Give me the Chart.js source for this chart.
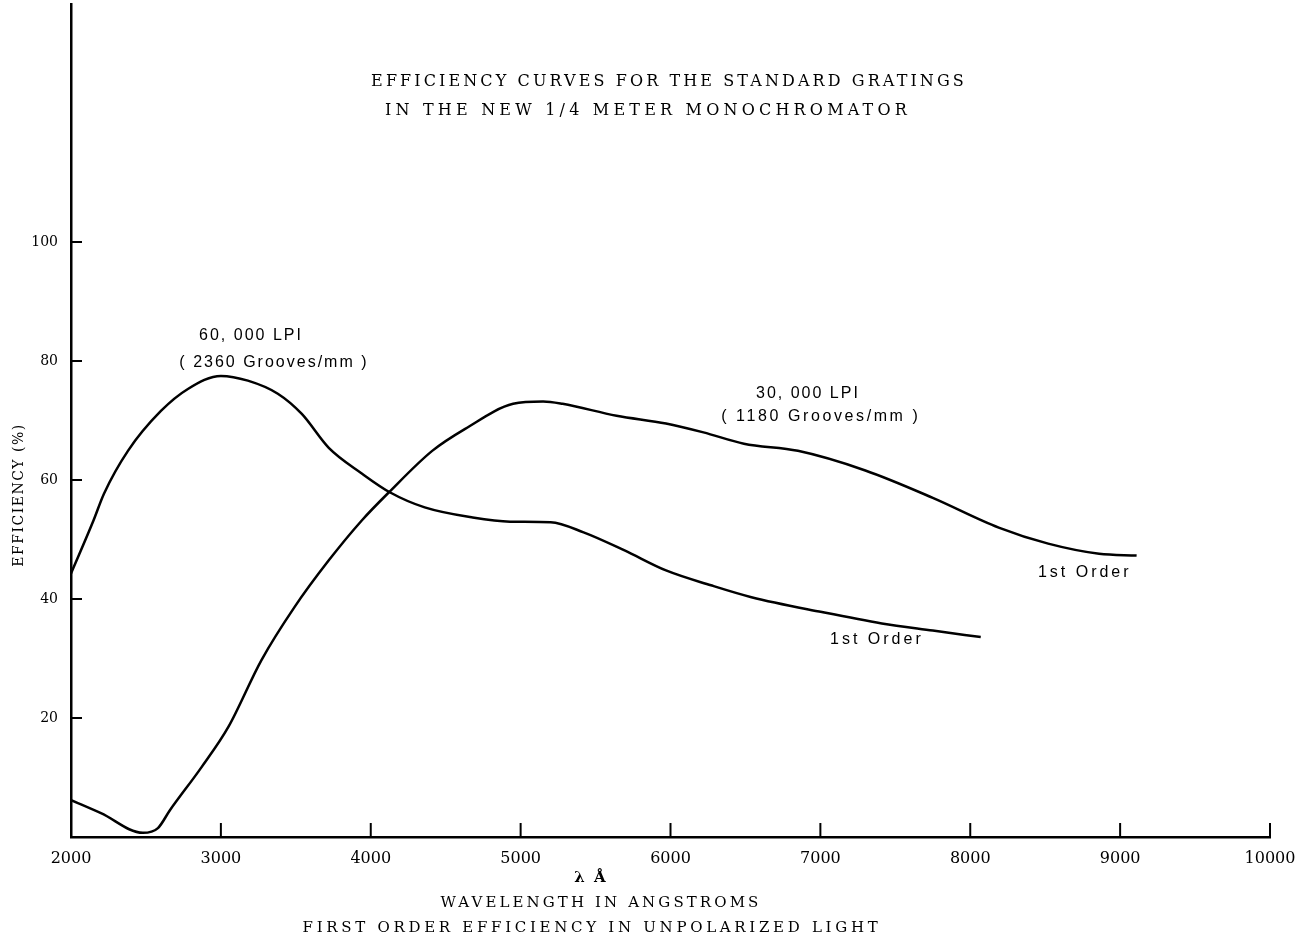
<!DOCTYPE html>
<html>
<head>
<meta charset="utf-8">
<script src="https://cdn.jsdelivr.net/npm/chart.js@4/dist/chart.umd.min.js"></script>
<style>
  html, body { margin: 0; padding: 0; background: #fff; }
  #wrap { width: 1313px; height: 944px; position: relative; }
  canvas { display: block; }
</style>
</head>
<body>
<div id="wrap"><canvas id="c" width="1313" height="944" style="width:1313px;height:944px"></canvas></div>
<script>
// ---- data ----
const wavelength60k = [2000, 2150, 2220, 2380, 2600, 2780, 3000, 3180, 3380, 3540, 3720, 3940, 4130, 4360, 4680, 4930, 5200, 5420, 5690, 5970, 6270, 6540, 7010, 7410, 7750, 8070];
const efficiency60k = [44.3, 53.2, 57.7, 64.9, 71.6, 75.3, 77.5, 76.7, 74.5, 71.1, 65.4, 61.1, 57.9, 55.4, 53.7, 53.0, 52.9, 51.2, 48.2, 44.8, 42.3, 40.3, 37.8, 35.9, 34.7, 33.6];

const wavelength30k = [2000, 2200, 2480, 2580, 2660, 2870, 3050, 3270, 3490, 3720, 3940, 4120, 4410, 4630, 4950, 5150, 5280, 5640, 5970, 6220, 6490, 6850, 7300, 7750, 8190, 8520, 8860, 9110];
const efficiency30k = [6.2, 4.0, 0.7, 1.5, 4.5, 11.7, 18.5, 29.7, 38.6, 46.5, 53.2, 57.9, 64.9, 68.6, 72.8, 73.2, 72.8, 70.8, 69.5, 68.0, 66.1, 64.9, 61.6, 57.0, 52.0, 49.3, 47.6, 47.3];

const xTickValues = [2000, 3000, 4000, 5000, 6000, 7000, 8000, 9000, 10000];
const xTickLabels = ['2000', '3000', '4000', '5000', '6000', '7000', '8000', '9000', '10000'];
const yTickValues = [20, 40, 60, 80, 100];
const yTickLabels = ['20', '40', '60', '80', '100'];

const titleLines = ['EFFICIENCY CURVES FOR THE STANDARD GRATINGS', 'IN THE NEW 1/4 METER MONOCHROMATOR'];
const yAxisTitle = 'EFFICIENCY (%)';
const xAxisLines = ['λ Å', 'WAVELENGTH IN ANGSTROMS', 'FIRST ORDER EFFICIENCY IN UNPOLARIZED LIGHT'];

// curve annotations (data coordinates)
const curveNotes = [
  { text: '60, 000 LPI', x: 3201, y: 84.2, spacing: 2 },
  { text: '( 2360 Grooves/mm )', x: 3354, y: 79.7, spacing: 2 },
  { text: '30, 000 LPI', x: 6917, y: 74.5, spacing: 2 },
  { text: '( 1180 Grooves/mm )', x: 7003, y: 70.6, spacing: 2.6 },
  { text: '1st Order', x: 8764, y: 44.5, spacing: 3 },
  { text: '1st Order', x: 7377, y: 33.1, spacing: 3 }
];

const toPoints = (xs, ys) => xs.map((x, i) => ({ x: x, y: ys[i] }));

const SERIF = '"DejaVu Serif", "Liberation Serif", serif';
const SANS = '"Liberation Sans", "DejaVu Sans", sans-serif';

const decorPlugin = {
  id: 'decor',
  afterDraw(chart) {
    const ctx = chart.ctx;
    const xs = chart.scales.x, ys = chart.scales.y;
    const ca = chart.chartArea;
    ctx.save();
    ctx.strokeStyle = '#000';
    ctx.fillStyle = '#000';
    // inward tick marks
    ctx.lineWidth = 2;
    yTickValues.forEach(v => {
      const py = ys.getPixelForValue(v);
      ctx.beginPath(); ctx.moveTo(ca.left, py); ctx.lineTo(ca.left + 11, py); ctx.stroke();
    });
    xTickValues.slice(1).forEach(v => {
      const px = xs.getPixelForValue(v);
      ctx.beginPath(); ctx.moveTo(px, ca.bottom); ctx.lineTo(px, ca.bottom - 14); ctx.stroke();
    });
    // title
    ctx.textAlign = 'center';
    ctx.textBaseline = 'middle';
    ctx.font = '16px ' + SERIF;
    ctx.letterSpacing = '3.1px';
    ctx.fillText(titleLines[0], 669, 82);
    ctx.letterSpacing = '4.2px';
    ctx.fillText(titleLines[1], 648, 111);
    // x axis titles
    ctx.font = 'bold 15px ' + SERIF;
    ctx.letterSpacing = '2px';
    ctx.fillText(xAxisLines[0], 591, 878);
    ctx.font = '15px ' + SERIF;
    ctx.letterSpacing = '3.1px';
    ctx.fillText(xAxisLines[1], 601, 903);
    ctx.letterSpacing = '3.7px';
    ctx.fillText(xAxisLines[2], 592, 928);
    // y axis title
    ctx.save();
    ctx.translate(19, 495);
    ctx.rotate(-Math.PI / 2);
    ctx.font = '14px ' + SERIF;
    ctx.letterSpacing = '1.5px';
    ctx.fillText(yAxisTitle, 0, 0);
    ctx.restore();
    // curve notes
    ctx.font = '16px ' + SANS;
    curveNotes.forEach(n => {
      ctx.letterSpacing = n.spacing + 'px';
      ctx.fillText(n.text, xs.getPixelForValue(n.x), ys.getPixelForValue(n.y));
    });
    ctx.restore();
  }
};

new Chart(document.getElementById('c'), {
  type: 'line',
  data: {
    datasets: [
      { label: '60,000 LPI', data: toPoints(wavelength60k, efficiency60k), borderColor: '#000', borderWidth: 2.5, pointRadius: 0, cubicInterpolationMode: 'monotone', fill: false },
      { label: '30,000 LPI', data: toPoints(wavelength30k, efficiency30k), borderColor: '#000', borderWidth: 2.5, pointRadius: 0, cubicInterpolationMode: 'monotone', fill: false }
    ]
  },
  options: {
    responsive: false,
    animation: false,
    devicePixelRatio: 1,
    layout: { padding: { top: 4, right: 43, left: 0, bottom: 0 } },
    plugins: { legend: { display: false }, tooltip: { enabled: false }, title: { display: false } },
    scales: {
      x: {
        type: 'linear', min: 2000, max: 10000,
        afterBuildTicks: s => { s.ticks = xTickValues.map(v => ({ value: v })); },
        afterFit: s => { s.height = 107; },
        grid: { display: false },
        border: { display: true, color: '#000', width: 2.5 },
        ticks: {
          color: '#000', padding: 4, maxRotation: 0, autoSkip: false,
          font: { family: SERIF, size: 16 },
          callback: v => { const i = xTickValues.indexOf(v); return i >= 0 ? xTickLabels[i] : ''; }
        }
      },
      y: {
        type: 'linear', min: 0, max: 140,
        afterBuildTicks: s => { s.ticks = yTickValues.map(v => ({ value: v })); },
        afterFit: s => { s.width = 71; s.paddingTop = 0; s.paddingBottom = 0; },
        grid: { display: false },
        border: { display: true, color: '#000', width: 2.5 },
        ticks: {
          color: '#000', padding: 5,
          font: { family: SERIF, size: 14 },
          callback: v => { const i = yTickValues.indexOf(v); return i >= 0 ? yTickLabels[i] : ''; }
        }
      }
    }
  },
  plugins: [decorPlugin]
});
</script>
</body>
</html>
